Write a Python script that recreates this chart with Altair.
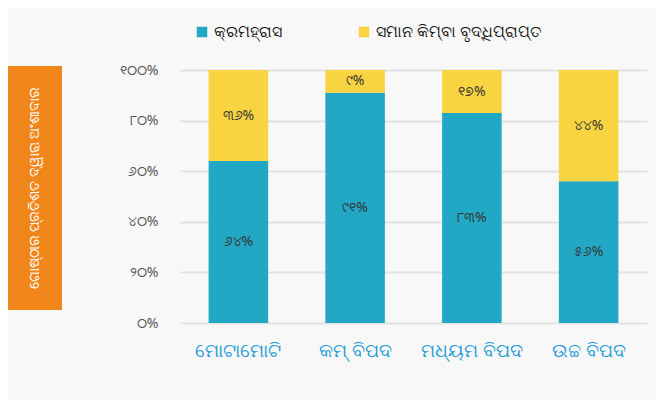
import altair as alt
import pandas as pd

categories = ["ମୋଟାମୋଟି", "କମ୍ ବିପଦ", "ମଧ୍ୟମ ବିପଦ", "ଉଚ୍ଚ ବିପଦ"]
series_names = ["କ୍ରମହ୍ରାସ", "ସମାନ କିମ୍ବା ବୃଦ୍ଧିପ୍ରାପ୍ତ"]
decrease = [64, 91, 83, 56]
same_or_increase = [36, 9, 17, 44]
decrease_labels = ["୬୪%", "୯୧%", "୮୩%", "୫୬%"]
increase_labels = ["୩୬%", "୯%", "୧୭%", "୪୪%"]
y_ticks = [0, 20, 40, 60, 80, 100]
y_tick_labels = ["୦%", "୨୦%", "୪୦%", "୬୦%", "୮୦%", "୧୦୦%"]
y_title = "ଗୋଷ୍ଠୀର ପ୍ରତିଶତ ଦ୍ୱାରା ଅଂଶୀଦାର"
colors = ["#22A8C4", "#F8D441"]

rows = []
for i, c in enumerate(categories):
    rows.append({"cat": c, "series": series_names[0], "value": decrease[i], "label": decrease_labels[i], "ord": 0})
    rows.append({"cat": c, "series": series_names[1], "value": same_or_increase[i], "label": increase_labels[i], "ord": 1})
df = pd.DataFrame(rows)

label_expr = " : ".join(
    [f"datum.value == {v} ? '{l}'" for v, l in zip(y_ticks, y_tick_labels)]
) + " : ''"

base = alt.Chart(df).transform_stack(
    stack="value", groupby=["cat"], sort=[alt.SortField("ord")], as_=["v0", "v1"]
).transform_calculate(mid="(datum.v0 + datum.v1) / 2")

x_enc = alt.X(
    "cat:N", sort=categories, title=None,
    scale=alt.Scale(paddingInner=0.49, paddingOuter=0.245),
    axis=alt.Axis(labelAngle=0, labelColor="#1E9BD7", labelFontSize=19, labelPadding=18,
                  domain=False, ticks=False, labelFont="Noto Sans"),
)

bars = base.mark_bar().encode(
    x=x_enc,
    y=alt.Y("v0:Q", scale=alt.Scale(domain=[0, 100]), title=None,
            axis=alt.Axis(values=y_ticks, labelExpr=label_expr, labelColor="#555555",
                          labelFontSize=14, labelPadding=22, domain=False, ticks=False,
                          gridColor="#E2E2E2", gridWidth=2, labelFont="Noto Sans")),
    y2="v1:Q",
    color=alt.Color("series:N", scale=alt.Scale(domain=series_names, range=colors),
                    legend=alt.Legend(orient="none", legendX=14, legendY=-46, direction="horizontal",
                                      title=None, symbolType="square", symbolSize=110,
                                      symbolStrokeWidth=0, labelFontSize=16, labelColor="#111111",
                                      labelLimit=0, labelOffset=4, columnPadding=74,
                                      labelFont="Noto Sans")),
)

texts = base.mark_text(fontSize=14, color="#333333", font="Noto Sans").encode(
    x=alt.X("cat:N", sort=categories),
    y=alt.Y("mid:Q"),
    text="label:N",
)

box = alt.Chart(pd.DataFrame({"t": [y_title]})).mark_rect(color="#F0861A").encode(
    x=alt.value(-172), x2=alt.value(-118), y=alt.value(-4), y2=alt.value(240)
)
box_text = alt.Chart(pd.DataFrame({"t": [y_title]})).mark_text(
    angle=270, color="white", fontSize=14, font="Noto Sans"
).encode(x=alt.value(-145), y=alt.value(118), text="t:N")

chart = alt.layer(box, box_text, bars, texts).properties(
    width=467, height=253,
    padding={"left": 172, "top": 62, "right": 9, "bottom": 77},
    autosize=alt.AutoSizeParams(type="none"),
    background="#F8F8F8",
).configure_view(stroke=None)

chart.save("out.html", embed_options={"renderer": "svg", "actions": False})
